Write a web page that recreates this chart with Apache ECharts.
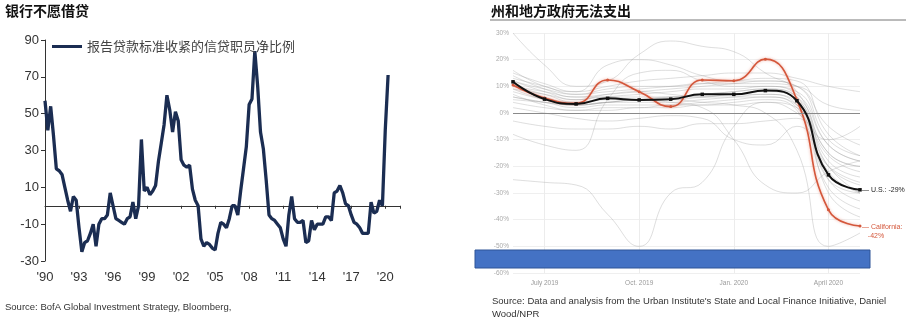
<!DOCTYPE html>
<html><head><meta charset="utf-8">
<script src="https://cdn.jsdelivr.net/npm/echarts@6/dist/echarts.min.js"></script>
<style>html,body{margin:0;padding:0;background:#fff}#c{width:906px;height:319px}</style>
</head><body><div id="c"></div>
<script>
// ---------- Left chart: bank lending standards ----------
const lendTitle = '银行不愿借贷';
const lendLegend = '报告贷款标准收紧的信贷职员净比例';
const lendSource = 'Source: BofA Global Investment Strategy, Bloomberg,';
const lendStartYear = 1990;               // first quarter = 1990 Q1
const lendXTickStep = 3;                  // labels every 3 years
// quarterly values 1990Q1 ... 2020Q2
const lendValues = [
  57, 41, 54, 38,   20, 19, 17, 10,   3, -3, 5, 3,   -12, -25, -20, -19,
  -15, -10, -22, -10,   -7, -7, -5, 7,   0, -7, -8, -9,   -10, -7, -6, 2,
  -7, 0, 36, 8,   10, 6, 8, 11,   24, 34, 44, 60,   52, 40, 51, 46,
  25, 22, 21, 22,   9, 3, 0, -18,   -22, -20, -21, -23,   -24, -15, -9, -10,
  -12, -7, 0, 0,   -5, 8, 20, 32,   55, 58, 84, 65,   40, 31, 14, -5,
  -7, -8, -10, -12,   -18, -22, -5, 5,   -7, -9, -9, -8,   -20, -19, -8, -13,
  -10, -10, -10, -6,   -6, -8, 7, 8,   11, 7, 1, 0,   -5, -9, -10, -12,
  -15, -15, -15, 2,   -4, -3, 3, 0,   41, 71
];

// ---------- Right chart: state & local spending ----------
const spendTitle = '州和地方政府无法支出';
const spendSource = "Source: Data and analysis from the Urban Institute's State and Local Finance Initiative, Daniel\nWood/NPR";
const months = ['June 2019','July 2019','Aug. 2019','Sept. 2019','Oct. 2019','Nov. 2019','Dec. 2019','Jan. 2020','Feb. 2020','March 2020','April 2020','May 2020'];
const usValues = [11.7, 5.2, 3.4, 5.5, 4.9, 5.2, 7.0, 7.0, 8.4, 4.6, -23.2, -28.8];
const caValues = [10.5, 5.6, 3.6, 12.4, 8.0, 2.4, 12.4, 12.1, 20.2, 4.9, -36.3, -42.4];
const usLabel = 'U.S.: -29%';
const caLabel = ['California:', '-42%'];
const otherStates = [
  [14, 9, 6, 7, 8, 9, 10, 11, 12, 10, -5, -12],
  [12, 8, 5, 6, 6, 6, 7, 8, 9, 6, -15, -20],
  [10, 7, 4, 5, 5, 5, 6, 7, 8, 5, -18, -24],
  [8, 5, 3, 4, 4, 4, 5, 6, 7, 3, -20, -27],
  [6, 4, 2, 3, 3, 3, 4, 5, 6, 2, -22, -30],
  [11, 6, 4, 6, 7, 8, 9, 9, 10, 7, -12, -18],
  [9, 7, 5, 7, 8, 7, 6, 7, 7, 4, -25, -33],
  [13, 10, 7, 9, 10, 10, 11, 12, 13, 12, -8, -16],
  [7, 3, 1, 2, 2, 3, 3, 4, 5, 1, -28, -36],
  [15, 11, 8, 10, 12, 13, 14, 15, 15, 13, 10, 8],
  [12, 9, 7, 8, 9, 10, 11, 11, 11, 10, 3, 1],
  [4, 2, 1, 1, 2, 2, 3, 3, 4, 0, -10, -5],
  [10, 8, 6, 6, 5, 6, 7, 8, 9, 6, -30, -39],
  [5, 4, 3, 4, 5, 6, 6, 6, 6, 3, -16, -22],
  [30, 18, 10, 12, 22, 27, 25, 23, 15, 8, -15, -20],
  [16, 10, 8, 18, 20, 18, 14, 12, 12, 10, -10, -16],
  [-25, -26, -27, -38, -50, -30, -26, -5, 4, 2, -20, -30],
  [6, 4, 3, 4, 5, 4, 2, -10, -27, -30, -22, -18],
  [9, 5, 3, 4, 5, 5, 4, 3, 0, -14, -50, -45],
  [-3, -5, -6, -6, -5, -6, -4, -4, -3, -2, -25, -30],
  [2, 0, -2, -3, -2, -1, -2, -10, -12, -5, -20, -26],
  [-8, -12, -14, 5, 15, 16, 12, 10, 10, 8, -12, -18]
];

const chart = echarts.init(document.getElementById('c'), null, {renderer: 'canvas'});
const lendData = lendValues.map((v, i) => [i / 4, v]);
const labelIdx = (i) => i % 3 === 1;

const series = [{
  name: lendLegend, type: 'line', xAxisIndex: 0, yAxisIndex: 0,
  data: lendData, showSymbol: false, symbol: 'none',
  lineStyle: {width: 3.3, color: '#1b2d52'}, itemStyle: {color: '#1b2d52'}, z: 3
}];
otherStates.forEach((arr) => series.push({
  type: 'line', xAxisIndex: 2, yAxisIndex: 1, data: arr, smooth: true,
  showSymbol: false, symbol: 'none', silent: true,
  lineStyle: {width: 0.8, color: 'rgba(150,150,150,0.4)'}, z: 1
}));
series.push({
  type: 'line', xAxisIndex: 2, yAxisIndex: 1, data: caValues, smooth: true,
  symbol: 'circle', symbolSize: 3, showSymbol: true,
  lineStyle: {width: 1.6, color: '#d4573b', shadowColor: 'rgba(230,120,100,0.6)', shadowBlur: 3},
  itemStyle: {color: '#d4573b'}, z: 4,
  endLabel: {show: true, distance: 2, offset: [0, 5], formatter: '— ' + caLabel[0] + '\n   ' + caLabel[1],
    fontSize: 7, lineHeight: 9, color: '#d4573b', fontFamily: 'Liberation Sans'}
});
series.push({
  type: 'line', xAxisIndex: 2, yAxisIndex: 1, data: usValues, smooth: true,
  symbol: 'rect', symbolSize: 3.5, showSymbol: true,
  lineStyle: {width: 2, color: '#111'}, itemStyle: {color: '#111'}, z: 5,
  markLine: {silent: true, symbol: 'none', label: {show: false},
    lineStyle: {color: '#8a8a8a', width: 1, type: 'solid'}, data: [{yAxis: 0}]},
  endLabel: {show: true, distance: 2, formatter: '— ' + usLabel,
    fontSize: 7, color: '#222', fontFamily: 'Liberation Sans'}
});

chart.setOption({
  animation: false,
  textStyle: {fontFamily: 'Liberation Sans'},
  title: [
    {text: lendTitle, left: 5, top: 4, padding: 0, textStyle: {fontSize: 14, fontWeight: 'bold', color: '#111', fontFamily: 'Noto Sans CJK SC'}},
    {text: spendTitle, left: 491, top: 4, padding: 0, textStyle: {fontSize: 14, fontWeight: 'bold', color: '#111', fontFamily: 'Noto Sans CJK SC'}}
  ],
  legend: {data: [lendLegend], left: 47, top: 35, icon: 'rect', itemWidth: 30, itemHeight: 3,
    selectedMode: false, textStyle: {fontSize: 13, color: '#444', fontFamily: 'Noto Sans CJK SC'}},
  grid: [
    {left: 45, top: 40, width: 355, height: 221},
    {left: 513, top: 33, width: 347, height: 240}
  ],
  xAxis: [
    {gridIndex: 0, type: 'value', min: 0, max: 31.3, interval: lendXTickStep, position: 'bottom',
      axisLine: {show: false, onZero: false}, axisTick: {show: false}, splitLine: {show: false},
      axisLabel: {margin: 10, fontSize: 13, color: '#333', showMaxLabel: false,
        formatter: (v) => (v % lendXTickStep === 0) ? "'" + String(lendStartYear + v).slice(2) : ''}},
    {gridIndex: 0, type: 'value', min: 0, max: 31.3, interval: lendXTickStep, position: 'bottom',
      axisLine: {show: true, onZero: true, lineStyle: {color: '#333', width: 1}},
      axisTick: {show: true, length: 3, inside: false, lineStyle: {color: '#333'}},
      axisLabel: {show: false}, splitLine: {show: false}},
    {gridIndex: 1, type: 'category', data: months, boundaryGap: false, position: 'bottom',
      axisLine: {show: false, onZero: false}, axisTick: {show: false},
      axisLabel: {interval: labelIdx, fontSize: 6.5, color: '#999', margin: 7},
      splitLine: {show: true, interval: labelIdx, lineStyle: {color: '#ececec', width: 1}}}
  ],
  yAxis: [
    {gridIndex: 0, type: 'value', min: -30, max: 90, interval: 20,
      axisLine: {show: true, onZero: false, lineStyle: {color: '#333', width: 1}},
      axisTick: {show: true, length: 4, lineStyle: {color: '#333'}},
      axisLabel: {fontSize: 13, color: '#333', margin: 6}, splitLine: {show: false}},
    {gridIndex: 1, type: 'value', min: -60, max: 30, interval: 10,
      axisLine: {show: false}, axisTick: {show: false},
      axisLabel: {fontSize: 6.5, color: '#aaa', margin: 4, formatter: '{value}%'},
      splitLine: {show: true, lineStyle: {color: '#efefef', width: 1}}}
  ],
  series: series,
  graphic: [
    {type: 'line', z: 50, shape: {x1: 490, y1: 20, x2: 906, y2: 20}, style: {stroke: '#777', lineWidth: 1}},
    {type: 'rect', z: 100, shape: {x: 475, y: 250, width: 395, height: 18},
      style: {fill: '#4472c4', stroke: '#2f5597', lineWidth: 1}},
    {type: 'text', z: 50, left: 5, top: 302,
      style: {text: lendSource, fontSize: 9.5, fill: '#333', fontFamily: 'Liberation Sans'}},
    {type: 'text', z: 50, left: 492, top: 295,
      style: {text: spendSource, fontSize: 9.5, lineHeight: 13, fill: '#333', fontFamily: 'Liberation Sans'}}
  ]
});
</script></body></html>
